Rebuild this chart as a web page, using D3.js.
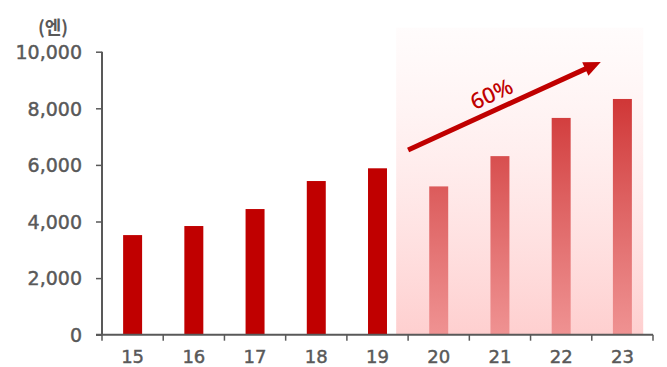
<!DOCTYPE html>
<html>
<head>
<meta charset="utf-8">
<script src="https://cdn.jsdelivr.net/npm/d3@7"></script>
<style>
  html, body { margin: 0; padding: 0; background: #fff; }
  svg { display: block; }
</style>
</head>
<body>
<svg id="chart" width="667" height="367"></svg>
<script>
// Yearly values in yen; years 20–23 are the projected period
const years = ["15", "16", "17", "18", "19", "20", "21", "22", "23"];
const values = [3520, 3840, 4440, 5430, 5880, 5240, 6310, 7660, 8330];
const forecastYears = ["20", "21", "22", "23"];
const yTicks = [0, 2000, 4000, 6000, 8000, 10000];
const unitLabel = "(엔)";
const growthLabel = "60%";

const svg = d3.select("#chart");
const axisColor = "#595959";
const barColor = "#c00000";
const labelFont = "'DejaVu Sans', sans-serif";

const x = d3.scaleBand().domain(years).range([102, 653]).paddingInner(0.69).paddingOuter(0.345);
const y = d3.scaleLinear().domain([0, 10000]).range([334.7, 51.7]);
const step = x.step();
const bw = x.bandwidth();
const bandStart = d => x(d) - (step - bw) / 2;   // left edge of a category slot
const cx = d => x(d) + bw / 2;

// Bars
svg.append("g")
  .selectAll("rect")
  .data(years.map((yr, i) => ({ yr, v: values[i] })))
  .join("rect")
  .attr("x", d => x(d.yr))
  .attr("width", bw)
  .attr("y", d => y(d.v))
  .attr("height", d => y(0) - y(d.v))
  .attr("fill", barColor);

// Shaded projection panel laid over the later years
const defs = svg.append("defs");
const grad = defs.append("linearGradient")
  .attr("id", "forecastShade")
  .attr("x1", 0).attr("y1", 0).attr("x2", 0).attr("y2", 1);
grad.append("stop").attr("offset", "0%").attr("stop-color", "rgb(255,222,222)").attr("stop-opacity", 0.1);
grad.append("stop").attr("offset", "100%").attr("stop-color", "rgb(254,192,192)").attr("stop-opacity", 0.76);

const panelLeft = cx("19") + step * 0.305;
const panelRight = cx(forecastYears[forecastYears.length - 1]) + step * 0.34;
svg.append("rect")
  .attr("x", panelLeft)
  .attr("y", y(10850))
  .attr("width", panelRight - panelLeft)
  .attr("height", y(0) - y(10850))
  .attr("fill", "url(#forecastShade)");

// Growth arrow
const a0 = [bandStart("20"), y(6530)];
const a1 = [bandStart("23") + 9, y(9640)];
const ang = Math.atan2(a1[1] - a0[1], a1[0] - a0[0]);
const headLen = 17, headHalf = 7.5;
const base = [a1[0] - headLen * Math.cos(ang), a1[1] - headLen * Math.sin(ang)];
svg.append("line")
  .attr("x1", a0[0]).attr("y1", a0[1])
  .attr("x2", base[0] + 2 * Math.cos(ang)).attr("y2", base[1] + 2 * Math.sin(ang))
  .attr("stroke", barColor).attr("stroke-width", 5);
const nx = -Math.sin(ang), ny = Math.cos(ang);
svg.append("path")
  .attr("d", d3.line()([
    a1,
    [base[0] + nx * headHalf, base[1] + ny * headHalf],
    [base[0] - nx * headHalf, base[1] - ny * headHalf]
  ]) + "Z")
  .attr("fill", barColor);

svg.append("text")
  .attr("transform", `translate(491,93) rotate(${ang * 180 / Math.PI})`)
  .attr("text-anchor", "middle")
  .attr("dominant-baseline", "central")
  .attr("font-family", "'Noto Sans', sans-serif")
  .attr("font-size", 22)
  .attr("font-weight", 500)
  .attr("fill", barColor)
  .text(growthLabel);

// Y axis
const yAxis = svg.append("g").attr("transform", "translate(102,0)")
  .call(d3.axisLeft(y).tickValues(yTicks).tickFormat(d3.format(",")).tickSize(6).tickPadding(14));
yAxis.select(".domain").attr("stroke", axisColor).attr("stroke-width", 2).attr("d", `M0,${y(0)}V${y(10000)}`);
yAxis.selectAll(".tick line").attr("stroke", axisColor).attr("stroke-width", 1.5);
yAxis.selectAll(".tick text")
  .attr("fill", axisColor)
  .attr("stroke", axisColor)
  .attr("stroke-width", 0.45)
  .attr("font-family", labelFont)
  .attr("font-size", 19)
  .attr("dy", "0.36em");

// X axis
const xAxis = svg.append("g").attr("transform", `translate(0,${y(0)})`)
  .call(d3.axisBottom(x).tickSize(0).tickPadding(16));
xAxis.select(".domain").attr("stroke", axisColor).attr("stroke-width", 2).attr("d", "M96,0H653");
xAxis.selectAll(".tick text")
  .attr("fill", axisColor)
  .attr("stroke", axisColor)
  .attr("stroke-width", 0.45)
  .attr("font-family", labelFont)
  .attr("font-size", 18);
// Separator ticks between categories
xAxis.append("g")
  .selectAll("line")
  .data(years.map(bandStart).concat([x.range()[1]]))
  .join("line")
  .attr("x1", d => d).attr("x2", d => d)
  .attr("y1", 0).attr("y2", 6)
  .attr("stroke", axisColor).attr("stroke-width", 1.5);

// Unit label
svg.append("text")
  .attr("x", 53).attr("y", 34)
  .attr("text-anchor", "middle")
  .attr("font-family", "'Noto Sans CJK KR', sans-serif")
  .attr("font-weight", "bold")
  .attr("font-size", 18)
  .attr("fill", axisColor)
  .text(unitLabel);
</script>
</body>
</html>
